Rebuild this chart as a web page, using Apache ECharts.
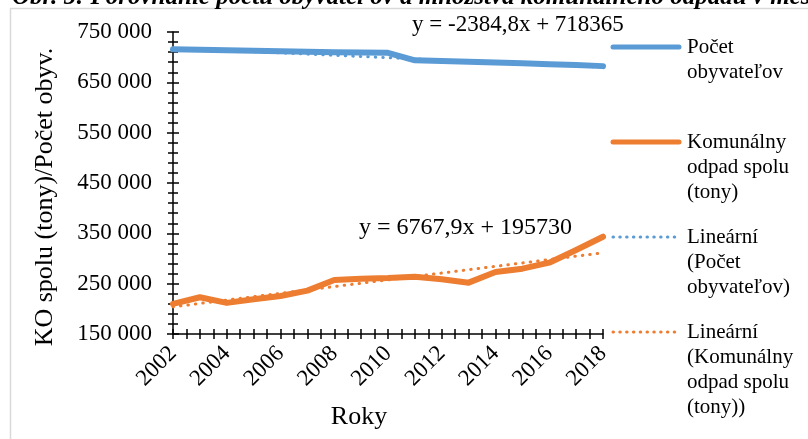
<!DOCTYPE html>
<html><head><meta charset="utf-8">
<script src="https://cdn.jsdelivr.net/npm/echarts@6/dist/echarts.min.js"></script>
<style>html,body{margin:0;padding:0;background:#fff}#c{width:808px;height:439px}</style>
</head><body><div id="c"></div>
<script>
const years = [2002, 2003, 2004, 2005, 2006, 2007, 2008, 2009, 2010, 2011, 2012, 2013, 2014, 2015, 2016, 2017, 2018];
const population = [715600, 714600, 713600, 712600, 711600, 710800, 710000, 709300, 708600, 693800, 692400, 691000, 689400, 687800, 686100, 684300, 682200];
const waste = [209700, 223000, 211800, 219000, 225600, 236100, 257300, 259900, 261300, 263900, 258700, 252000, 273200, 279800, 291700, 316800, 343300];
const trendYears = [2002, 2018];
const populationTrend = [718000, 680000];
const wasteTrend = [204000, 311300];
const seriesNames = ['Počet obyvateľov', 'Komunálny odpad spolu (tony)', 'Lineární (Počet obyvateľov)', 'Lineární (Komunálny odpad spolu (tony))'];
const legendLabels = [['Počet', 'obyvateľov'], ['Komunálny', 'odpad spolu', '(tony)'], ['Lineární', '(Počet', 'obyvateľov)'], ['Lineární', '(Komunálny', 'odpad spolu', '(tony))']];
const equations = ['y = -2384,8x + 718365', 'y = 6767,9x + 195730'];
const titleText = 'Obr. 5: Porovnanie počtu obyvateľov a množstva komunálneho odpadu v meste';
const xTitle = 'Roky';
const yTitle = 'KO spolu (tony)/Počet obyv.';

const F = "'Liberation Serif','Times New Roman',serif";
const BLUE = '#5B9BD5', ORANGE = '#ED7D31';
const fmt = v => String(v).replace(/\B(?=(\d{3})+(?!\d))/g, ' ');
const pair = (xs, ys) => xs.map((x, i) => [x, ys[i]]);

const tickStyle = {color: '#000', width: 1.5};
function xAx(main) {
  return {
    type: 'value', min: 2002, max: 2018, interval: 2, position: 'bottom', offset: 0,
    axisLine: {show: main, lineStyle: {color: '#000', width: 1.5}},
    axisTick: {show: true, inside: !main, length: 5, lineStyle: tickStyle},
    minorTick: {show: true, splitNumber: 4, length: 5, lineStyle: tickStyle},
    splitLine: {show: false}, minorSplitLine: {show: false},
    axisLabel: main ? {rotate: 45, margin: 16, fontFamily: F, fontSize: 23, color: '#000', formatter: v => String(v)} : {show: false}
  };
}
function yAx(main) {
  return {
    type: 'value', min: 150000, max: 750000, interval: 100000, position: 'left', offset: 0,
    axisLine: {show: main, lineStyle: {color: '#000', width: 1.5}},
    axisTick: {show: true, inside: !main, length: 6, lineStyle: tickStyle},
    minorTick: {show: true, splitNumber: 5, length: 5, lineStyle: tickStyle},
    splitLine: {show: false}, minorSplitLine: {show: false},
    axisLabel: main ? {margin: 21, fontFamily: F, fontSize: 23, color: '#000', formatter: fmt} : {show: false}
  };
}

const legendY = [47, 142, 237, 332];
const legendStyles = [
  {stroke: BLUE, lineWidth: 5, lineCap: 'round'},
  {stroke: ORANGE, lineWidth: 5, lineCap: 'round'},
  {stroke: BLUE, lineWidth: 3, lineCap: 'round', lineDash: [0.5, 6.3]},
  {stroke: ORANGE, lineWidth: 3, lineCap: 'round', lineDash: [0.5, 6.3]}
];
const legendGraphics = [];
legendY.forEach((y, i) => {
  legendGraphics.push({type: 'line', shape: {x1: 613, y1: y, x2: 679, y2: y}, style: legendStyles[i]});
  legendGraphics.push({type: 'text', x: 687, y: y - 12.5, style: {text: legendLabels[i].join('\n'), fontFamily: F, fontSize: 21, lineHeight: 25, fill: '#000', align: 'left', verticalAlign: 'top'}});
});

const chart = echarts.init(document.getElementById('c'), null, {renderer: 'canvas'});
chart.setOption({
  animation: false,
  backgroundColor: '#fff',
  grid: {left: 173, top: 32, width: 430, height: 302, containLabel: false},
  xAxis: [xAx(true), xAx(false)],
  yAxis: [yAx(true), yAx(false)],
  series: [
    {name: seriesNames[0], type: 'line', data: pair(years, population), symbol: 'none', lineStyle: {color: BLUE, width: 6, cap: 'round', join: 'round'}, itemStyle: {color: BLUE}, z: 2},
    {name: seriesNames[1], type: 'line', data: pair(years, waste), symbol: 'none', lineStyle: {color: ORANGE, width: 6, cap: 'round', join: 'round'}, itemStyle: {color: ORANGE}, z: 2},
    {name: seriesNames[2], type: 'line', data: pair(trendYears, populationTrend), symbol: 'none', lineStyle: {color: BLUE, width: 3, type: [0.5, 7], cap: 'round'}, itemStyle: {color: BLUE}, z: 3},
    {name: seriesNames[3], type: 'line', data: pair(trendYears, wasteTrend), symbol: 'none', lineStyle: {color: ORANGE, width: 3, type: [0.5, 7], cap: 'round'}, itemStyle: {color: ORANGE}, z: 3}
  ],
  graphic: [
    {type: 'rect', shape: {x: 10.5, y: 8.5, width: 900, height: 500}, style: {fill: 'none', stroke: '#d9d9d9', lineWidth: 1.5}, z: -1},
    {type: 'text', x: 12, y: 10, style: {text: titleText, fontFamily: F, fontSize: 25, fontWeight: 'bold', fontStyle: 'italic', fill: '#000', align: 'left', verticalAlign: 'bottom'}},
    {type: 'text', x: 412, y: 25, style: {text: equations[0], fontFamily: F, fontSize: 23, fill: '#000', align: 'left', verticalAlign: 'middle'}},
    {type: 'text', x: 359, y: 228, style: {text: equations[1], fontFamily: F, fontSize: 24, fill: '#000', align: 'left', verticalAlign: 'middle'}},
    {type: 'text', x: 359, y: 417, style: {text: xTitle, fontFamily: F, fontSize: 26, fill: '#000', align: 'center', verticalAlign: 'middle'}},
    {type: 'text', x: 45, y: 197, rotation: Math.PI / 2, style: {text: yTitle, fontFamily: F, fontSize: 26, fill: '#000', align: 'center', verticalAlign: 'middle'}}
  ].concat(legendGraphics)
});
</script></body></html>
